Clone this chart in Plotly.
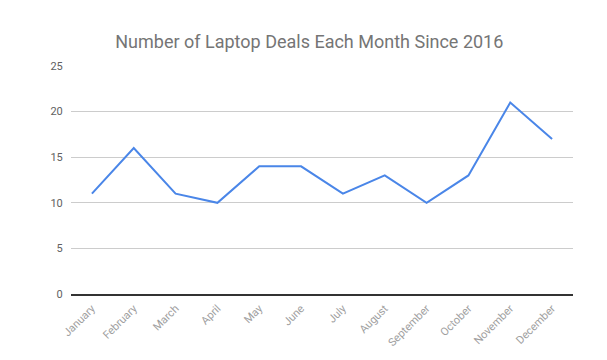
import plotly.graph_objects as go

months = ["January", "February", "March", "April", "May", "June", "July",
          "August", "September", "October", "November", "December"]
deals = [11, 16, 11, 10, 14, 14, 11, 13, 10, 13, 21, 17]
y_ticks = [0, 5, 10, 15, 20, 25]

fig = go.Figure()
fig.add_trace(go.Scatter(
    x=months, y=deals, mode="lines",
    line=dict(color="#4a86e8", width=2),
    hoverinfo="x+y",
))

fig.update_layout(
    width=599, height=352,
    margin=dict(l=63, r=34, t=58, b=66, autoexpand=False),
    paper_bgcolor="white", plot_bgcolor="white",
    title=dict(text="Number of Laptop Deals Each Month Since 2016",
               x=0.503, xanchor="center", y=0.903, yanchor="middle",
               font=dict(family="Roboto", size=18, color="#757575")),
    showlegend=False,
    font=dict(family="Roboto"),
)
fig.update_xaxes(
    type="category", range=[-0.5, 11.5],
    tickangle=-45, tickfont=dict(size=11, color="#9e9e9e"),
    showgrid=False, showline=True, linecolor="#333333", linewidth=1.5,
    ticks="outside", ticklen=2, tickcolor="white", fixedrange=True,
)
fig.update_yaxes(
    range=[0, 25], tickvals=y_ticks,
    tickfont=dict(size=11, color="#616161"),
    showgrid=True, gridcolor="#cccccc", gridwidth=1,
    zeroline=False, showline=False, ticks="outside", ticklen=5, tickcolor="white",
    fixedrange=True,
)

fig.write_html("out.html")
